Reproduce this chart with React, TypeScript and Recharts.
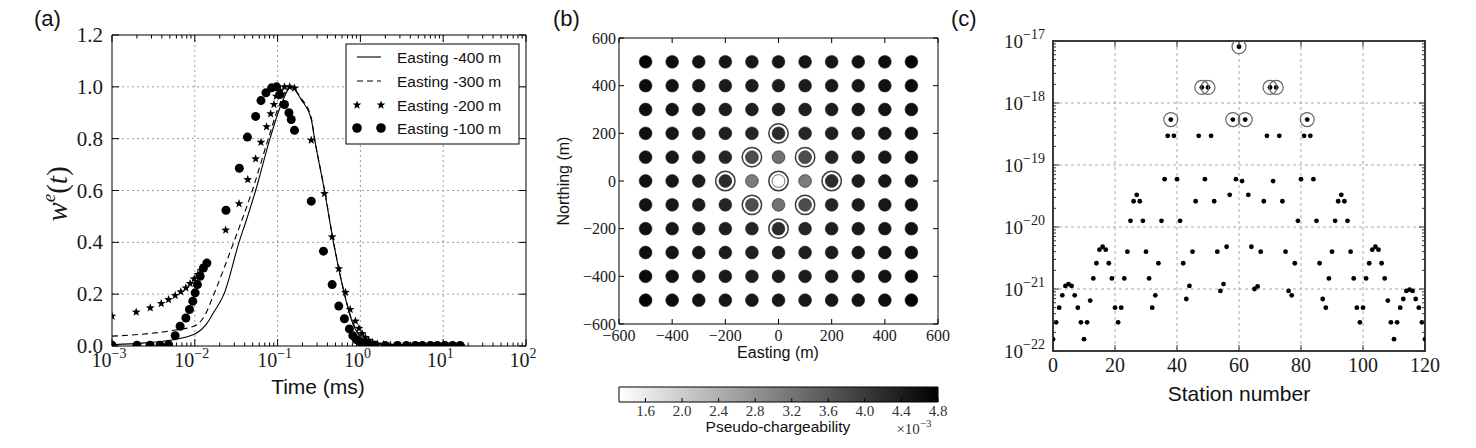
import React from "react";
import {
  ComposedChart,
  ScatterChart,
  Scatter,
  Line,
  XAxis,
  YAxis,
  CartesianGrid,
  ReferenceArea,
} from "recharts";

const SERIF = '"Liberation Serif", "DejaVu Serif", serif';
const SANS = '"Liberation Sans", Arial, sans-serif';
const MINUS = "\u2212";
const INK = "#1a1a1a";

// ---------- (a) normalised windows w^e(t) ----------
const seriesNames = ["Easting -400 m", "Easting -300 m", "Easting -200 m", "Easting -100 m"];
const timeDecades = [0.001, 0.01, 0.1, 1, 10, 100];
const weTicks = [0, 0.2, 0.4, 0.6, 0.8, 1.0, 1.2];

// [time (ms), w^e]
const east400 = [
  [0.001, 0.005], [0.0025, 0.012], [0.005, 0.022], [0.01, 0.046], [0.0141, 0.088],
  [0.0168, 0.128], [0.0225, 0.2], [0.0342, 0.4], [0.0424, 0.49], [0.0543, 0.6],
  [0.0809, 0.8], [0.107, 0.92], [0.146, 1.0], [0.193, 0.95], [0.255, 0.874],
  [0.279, 0.8], [0.368, 0.6], [0.473, 0.4], [0.641, 0.2], [0.773, 0.104],
  [0.973, 0.04], [1.38, 0.012], [2.63, 0.002], [16.6, 0],
];
const east300 = [
  [0.001, 0.038], [0.0022, 0.045], [0.005, 0.058], [0.01, 0.078], [0.0132, 0.118],
  [0.017, 0.2], [0.0295, 0.4], [0.0495, 0.6], [0.0773, 0.8], [0.105, 0.93],
  [0.141, 1.0], [0.193, 0.955], [0.255, 0.88], [0.28, 0.8], [0.37, 0.6],
  [0.475, 0.4], [0.645, 0.2], [0.78, 0.105], [0.98, 0.042], [1.38, 0.013],
  [2.63, 0.002], [16.6, 0],
];
const east200 = [
  [0.001, 0.115], [0.00196, 0.131], [0.0029, 0.147], [0.00393, 0.164], [0.00482, 0.179],
  [0.00579, 0.195], [0.00678, 0.209], [0.0078, 0.224], [0.00879, 0.241], [0.00982, 0.259],
  [0.01086, 0.276], [0.0119, 0.292], [0.01294, 0.308], [0.014, 0.322], [0.0236, 0.447],
  [0.0342, 0.549], [0.0436, 0.642], [0.0543, 0.722], [0.063, 0.786], [0.0736, 0.846],
  [0.0824, 0.896], [0.0904, 0.932], [0.0964, 0.964], [0.108, 0.985], [0.121, 1.0],
  [0.14, 1.0], [0.16, 0.995], [0.255, 0.794], [0.368, 0.588], [0.456, 0.421],
  [0.548, 0.298], [0.659, 0.207], [0.752, 0.141], [0.871, 0.096], [0.96, 0.068],
  [1.05, 0.048], [1.15, 0.033], [1.26, 0.022], [1.4, 0.014], [1.6, 0.008],
  [1.9, 0.005], [2.3, 0.003], [3.0, 0.002], [4.0, 0.001], [5.5, 0.001],
  [7.5, 0], [10, 0], [13, 0], [16.6, 0],
];
const east100 = [
  [0.001, 0.003], [0.002, 0.003], [0.00288, 0.003], [0.0038, 0.003], [0.00482, 0.005],
  [0.00579, 0.04], [0.00665, 0.076], [0.0078, 0.108], [0.00863, 0.141], [0.00946, 0.173],
  [0.0101, 0.205], [0.01076, 0.237], [0.0116, 0.269], [0.0127, 0.301], [0.014, 0.32],
  [0.0238, 0.524], [0.0345, 0.686], [0.0432, 0.806], [0.0543, 0.886], [0.063, 0.947],
  [0.0723, 0.977], [0.0847, 0.996], [0.0973, 1.0], [0.106, 0.97], [0.121, 0.932],
  [0.137, 0.9], [0.146, 0.874], [0.16, 0.832], [0.255, 0.559], [0.358, 0.366],
  [0.456, 0.237], [0.548, 0.154], [0.641, 0.105], [0.736, 0.066], [0.81, 0.04],
  [0.89, 0.025], [1.0, 0.015], [1.12, 0.01], [1.26, 0.005], [1.5, 0.003],
  [2.0, 0.002], [2.8, 0.002], [3.6, 0.002], [4.6, 0.002], [5.6, 0.002],
  [7.0, 0.002], [8.5, 0.002], [10.5, 0.002], [13, 0.002], [16, 0.002],
];

// ---------- (b) pseudo-chargeability map ----------
const eastings = [-500, -400, -300, -200, -100, 0, 100, 200, 300, 400, 500];
const northings = [500, 400, 300, 200, 100, 0, -100, -200, -300, -400, -500];
const mapTicks = [-600, -400, -200, 0, 200, 400, 600];
// x 1e-3, rows from north (500) to south (-500)
const chargeability = [
  [4.75, 4.62, 4.55, 4.5, 4.48, 4.48, 4.48, 4.5, 4.55, 4.62, 4.75],
  [4.65, 4.55, 4.5, 4.45, 4.42, 4.42, 4.42, 4.45, 4.5, 4.55, 4.65],
  [4.6, 4.52, 4.48, 4.42, 4.38, 4.4, 4.38, 4.42, 4.48, 4.52, 4.6],
  [4.58, 4.5, 4.45, 4.38, 4.3, 4.2, 4.3, 4.38, 4.45, 4.5, 4.58],
  [4.55, 4.48, 4.42, 4.3, 3.75, 3.25, 3.75, 4.3, 4.42, 4.48, 4.55],
  [4.55, 4.48, 4.4, 4.2, 3.12, 1.35, 3.12, 4.2, 4.4, 4.48, 4.55],
  [4.55, 4.48, 4.42, 4.3, 3.75, 3.25, 3.75, 4.3, 4.42, 4.48, 4.55],
  [4.58, 4.5, 4.45, 4.38, 4.3, 4.2, 4.3, 4.38, 4.45, 4.5, 4.58],
  [4.6, 4.52, 4.48, 4.42, 4.38, 4.4, 4.38, 4.42, 4.48, 4.52, 4.6],
  [4.65, 4.55, 4.5, 4.45, 4.42, 4.42, 4.42, 4.45, 4.5, 4.55, 4.65],
  [4.75, 4.62, 4.55, 4.5, 4.48, 4.48, 4.48, 4.5, 4.55, 4.62, 4.75],
];
const colorbarTicks = [1.6, 2.0, 2.4, 2.8, 3.2, 3.6, 4.0, 4.4, 4.8];
const CMAP_MIN = 1.31;
const CMAP_MAX = 4.8;

// ---------- (c) per-station values ----------
const stationValues = [
  1.55e-22, 2.9e-22, 5.0e-22, 7.9e-22, 1.12e-21, 1.2e-21, 1.12e-21, 7.9e-22, 5.0e-22, 2.9e-22, 1.55e-22,
  2.9e-22, 6.5e-22, 1.48e-21, 2.6e-21, 4.3e-21, 4.8e-21, 4.3e-21, 2.6e-21, 1.48e-21, 5.0e-22, 2.9e-22,
  5.0e-22, 1.48e-21, 4.0e-21, 1.26e-20, 2.6e-20, 3.3e-20, 2.6e-20, 1.26e-20, 4.0e-21, 1.48e-21, 5.0e-22,
  7.9e-22, 2.6e-21, 1.26e-20, 5.9e-20, 2.95e-19, 5.4e-19, 2.95e-19, 5.9e-20, 1.26e-20, 2.6e-21, 6.9e-22,
  1.12e-21, 4.0e-21, 2.6e-20, 2.95e-19, 1.78e-18, 5.9e-20, 1.78e-18, 2.95e-19, 2.6e-20, 4.0e-21, 9.3e-22,
  1.2e-21, 4.8e-21, 3.3e-20, 5.4e-19, 5.9e-20, 8.1e-18, 5.5e-20, 5.4e-19, 3.3e-20, 4.8e-21, 1.0e-21,
  1.1e-21, 4.0e-21, 2.6e-20, 2.95e-19, 1.78e-18, 5.5e-20, 1.78e-18, 2.95e-19, 2.6e-20, 4.0e-21, 9.3e-22,
  7.9e-22, 2.6e-21, 1.26e-20, 5.9e-20, 2.95e-19, 5.4e-19, 2.95e-19, 5.9e-20, 1.26e-20, 2.6e-21, 6.9e-22,
  5.0e-22, 1.48e-21, 4.0e-21, 1.26e-20, 2.6e-20, 3.3e-20, 2.6e-20, 1.26e-20, 4.0e-21, 1.48e-21, 5.0e-22,
  2.9e-22, 5.0e-22, 1.48e-21, 2.6e-21, 4.3e-21, 4.8e-21, 4.3e-21, 2.6e-21, 1.48e-21, 6.5e-22, 2.9e-22,
  1.55e-22, 2.9e-22, 5.0e-22, 6.9e-22, 9.3e-22, 9.8e-22, 9.3e-22, 6.9e-22, 5.0e-22, 2.9e-22, 1.55e-22,
];
const circledStations = [38, 48, 50, 58, 60, 62, 70, 72, 82];
const stationTicks = [0, 20, 40, 60, 80, 100, 120];
const powerDecades = [1e-22, 1e-21, 1e-20, 1e-19, 1e-18, 1e-17];

// ---------- helpers ----------
const toPts = (arr: number[][]) => arr.map(([t, v]) => ({ t, v }));
const withMinors = (decades: number[]) =>
  decades.flatMap((d, i) =>
    i < decades.length - 1 ? [1, 2, 3, 4, 5, 6, 7, 8, 9].map((k) => d * k) : [d]
  );
const isPow10 = (v: number) => Math.abs(Math.log10(v) - Math.round(Math.log10(v))) < 1e-6;
const signed = (v: number) => (v < 0 ? MINUS + Math.abs(v) : String(v));
const gray = (m: number) => {
  const f = Math.min(1, Math.max(0, (CMAP_MAX - m) / (CMAP_MAX - CMAP_MIN)));
  const g = Math.round(255 * f);
  return `rgb(${g},${g},${g})`;
};

const timeTicks = withMinors(timeDecades);
const powerTicks = withMinors(powerDecades);

const mapPoints = northings.flatMap((n, i) =>
  eastings.map((e, j) => ({
    e,
    n,
    m: chargeability[i][j],
    ring: circledStations.includes((10 - i) * 11 + j),
  }))
);
const stationPoints = stationValues.map((p, s) => ({ s, p }));
const ringPoints = stationPoints.filter((d) => circledStations.includes(d.s));

function starPath(cx: number, cy: number, R: number, r: number) {
  let d = "";
  for (let k = 0; k < 10; k++) {
    const a = -Math.PI / 2 + (k * Math.PI) / 5;
    const rad = k % 2 === 0 ? R : r;
    d += (k === 0 ? "M" : "L") + (cx + rad * Math.cos(a)).toFixed(2) + "," + (cy + rad * Math.sin(a)).toFixed(2);
  }
  return d + "Z";
}

function PowerLabel({ x, y, v, size, sup, anchor = "middle" }: any) {
  const exp = Math.round(Math.log10(v));
  return (
    <text x={x} y={y} textAnchor={anchor} fontFamily={SERIF} fontSize={size} fill={INK}>
      10
      <tspan dy={-size * 0.45} fontSize={sup}>
        {exp < 0 ? MINUS + Math.abs(exp) : String(exp)}
      </tspan>
    </text>
  );
}

// ---------- layout (chart-local pixel boxes) ----------
const PA = { w: 560, h: 448, left: 112, right: 526, top: 35, bottom: 346 };
const PB = { w: 420, h: 448, left: 79, right: 398, top: 38, bottom: 324 };
const PCB = { w: 420, h: 78, left: 79, right: 398, top: 17, bottom: 32 };
const PC = { w: 516, h: 448, left: 93, right: 465, top: 41, bottom: 351 };

// ---------- ticks ----------
function TimeTick({ x, y, payload }: any) {
  const major = isPow10(payload.value);
  const len = major ? 7 : 3.5;
  return (
    <g>
      <line x1={x} x2={x} y1={y} y2={y - len} stroke="#000" />
      <line x1={x} x2={x} y1={PA.top} y2={PA.top + len} stroke="#000" />
      {major && <PowerLabel x={x - 3} y={y + 21} v={payload.value} size={20} sup={14} />}
    </g>
  );
}
function WeTick({ x, y, payload }: any) {
  return (
    <g>
      <line x1={x} x2={x + 7} y1={y} y2={y} stroke="#000" />
      <line x1={PA.right} x2={PA.right - 7} y1={y} y2={y} stroke="#000" />
      <text x={x - 9} y={y + 7} textAnchor="end" fontFamily={SERIF} fontSize={21} fill={INK}>
        {payload.value.toFixed(1)}
      </text>
    </g>
  );
}
function MapXTick({ x, y, payload }: any) {
  return (
    <g>
      <line x1={x} x2={x} y1={y} y2={y - 5} stroke="#000" />
      <line x1={x} x2={x} y1={PB.top} y2={PB.top + 5} stroke="#000" />
      <text x={x} y={y + 17} textAnchor="middle" fontFamily={SERIF} fontSize={16} fill={INK}>
        {signed(payload.value)}
      </text>
    </g>
  );
}
function MapYTick({ x, y, payload }: any) {
  return (
    <g>
      <line x1={x} x2={x + 5} y1={y} y2={y} stroke="#000" />
      <line x1={PB.right} x2={PB.right - 5} y1={y} y2={y} stroke="#000" />
      <text x={x - 3} y={y + 5.5} textAnchor="end" fontFamily={SERIF} fontSize={16} fill={INK}>
        {signed(payload.value)}
      </text>
    </g>
  );
}
function CbarTick({ x, y, payload }: any) {
  return (
    <g>
      <line x1={x} x2={x} y1={y} y2={y - 4} stroke="#000" />
      <text x={x} y={y + 14} textAnchor="middle" fontFamily={SERIF} fontSize={15} fill="#333">
        {payload.value.toFixed(1)}
      </text>
    </g>
  );
}
function StationTick({ x, y, payload }: any) {
  return (
    <g>
      <line x1={x} x2={x} y1={y} y2={y - 6} stroke="#333" />
      <line x1={x} x2={x} y1={PC.top} y2={PC.top + 6} stroke="#333" />
      <text x={x} y={y + 21} textAnchor="middle" fontFamily={SERIF} fontSize={20} fill={INK}>
        {payload.value}
      </text>
    </g>
  );
}
function PowerTick({ x, y, payload }: any) {
  const major = isPow10(payload.value);
  const len = major ? 6 : 3;
  return (
    <g>
      <line x1={x} x2={x + len} y1={y} y2={y} stroke="#333" />
      <line x1={PC.right} x2={PC.right - len} y1={y} y2={y} stroke="#333" />
      {major && <PowerLabel x={x - 8} y={y + 7} v={payload.value} size={19} sup={14} anchor="end" />}
    </g>
  );
}

// ---------- marks ----------
const StarShape = ({ cx, cy }: any) => <path d={starPath(cx, cy, 4.6, 1.9)} fill="#000" />;
const DotShape = ({ cx, cy }: any) => <circle cx={cx} cy={cy} r={4.5} fill="#000" />;
const MapDot = ({ cx, cy, payload }: any) => (
  <g>
    {payload.ring && <circle cx={cx} cy={cy} r={9.7} fill="#fff" stroke="#3a3a3a" strokeWidth={1.5} />}
    <circle cx={cx} cy={cy} r={6.4} fill={gray(payload.m)} stroke="#222" strokeWidth={0.6} />
  </g>
);
const SmallDot = ({ cx, cy }: any) => <circle cx={cx} cy={cy} r={2.4} fill="#000" />;
const Ring = ({ cx, cy }: any) => (
  <circle cx={cx} cy={cy} r={7} fill="none" stroke="#666" strokeWidth={1.2} />
);

function PanelA() {
  return (
    <ComposedChart
      width={PA.w}
      height={PA.h}
      margin={{ top: PA.top, right: PA.w - PA.right, bottom: PA.h - PA.bottom - 30, left: PA.left - 60 }}
    >
      <CartesianGrid
        verticalValues={timeDecades.slice(1, -1)}
        horizontalValues={weTicks.slice(1, -1)}
        stroke="#9a9a9a"
        strokeDasharray="2 3"
      />
      <XAxis
        dataKey="t"
        type="number"
        scale="log"
        domain={[0.001, 100]}
        allowDataOverflow
        ticks={timeTicks}
        interval={0}
        height={30}
        tickSize={0}
        tickMargin={0}
        tickLine={false}
        axisLine={false}
        tick={(p: any) => <TimeTick {...p} />}
      />
      <YAxis
        dataKey="v"
        type="number"
        domain={[0, 1.2]}
        allowDataOverflow
        ticks={weTicks}
        interval={0}
        width={60}
        tickSize={0}
        tickMargin={0}
        tickLine={false}
        axisLine={false}
        tick={(p: any) => <WeTick {...p} />}
      />
      <Line data={toPts(east400)} dataKey="v" type="monotone" stroke="#000" strokeWidth={1.1} dot={false} isAnimationActive={false} />
      <Line data={toPts(east300)} dataKey="v" type="monotone" stroke="#000" strokeWidth={1.1} strokeDasharray="6 4" dot={false} isAnimationActive={false} />
      <Scatter data={toPts(east200)} dataKey="v" shape={StarShape} isAnimationActive={false} />
      <Scatter data={toPts(east100)} dataKey="v" shape={DotShape} isAnimationActive={false} />
      <ReferenceArea x1={0.001} x2={100} y1={0} y2={1.2} fill="none" stroke="#000" strokeWidth={1} ifOverflow="visible" />
    </ComposedChart>
  );
}

function PanelB() {
  return (
    <ScatterChart
      width={PB.w}
      height={PB.h}
      margin={{ top: PB.top, right: PB.w - PB.right, bottom: PB.h - PB.bottom - 30, left: PB.left - 50 }}
    >
      <XAxis
        dataKey="e"
        type="number"
        domain={[-600, 600]}
        allowDataOverflow
        ticks={mapTicks}
        interval={0}
        height={30}
        tickSize={0}
        tickMargin={0}
        tickLine={false}
        axisLine={false}
        tick={(p: any) => <MapXTick {...p} />}
      />
      <YAxis
        dataKey="n"
        type="number"
        domain={[-600, 600]}
        allowDataOverflow
        ticks={mapTicks}
        interval={0}
        width={50}
        tickSize={0}
        tickMargin={0}
        tickLine={false}
        axisLine={false}
        tick={(p: any) => <MapYTick {...p} />}
      />
      <Scatter data={mapPoints} shape={MapDot} isAnimationActive={false} />
      <ReferenceArea x1={-600} x2={600} y1={-600} y2={600} fill="none" stroke="#000" strokeWidth={1} ifOverflow="visible" />
    </ScatterChart>
  );
}

function Colorbar() {
  return (
    <ComposedChart
      width={PCB.w}
      height={PCB.h}
      margin={{ top: PCB.top, right: PCB.w - PCB.right, bottom: PCB.h - PCB.bottom - 30, left: PCB.left }}
    >
      <XAxis
        dataKey="x"
        type="number"
        domain={[CMAP_MIN, CMAP_MAX]}
        allowDataOverflow
        ticks={colorbarTicks}
        interval={0}
        height={30}
        tickSize={0}
        tickMargin={0}
        tickLine={false}
        axisLine={false}
        tick={(p: any) => <CbarTick {...p} />}
      />
      <YAxis dataKey="y" type="number" domain={[0, 1]} hide />
      <Scatter data={colorbarTicks.map((x) => ({ x, y: 0.5 }))} shape={() => <g />} isAnimationActive={false} />
      <ReferenceArea x1={CMAP_MIN} x2={CMAP_MAX} y1={0} y2={1} fill="url(#cbarGrad)" fillOpacity={1} stroke="#000" strokeWidth={1} ifOverflow="visible" />
    </ComposedChart>
  );
}

function PanelC() {
  return (
    <ScatterChart
      width={PC.w}
      height={PC.h}
      margin={{ top: PC.top, right: PC.w - PC.right, bottom: PC.h - PC.bottom - 30, left: PC.left - 53 }}
    >
      <CartesianGrid
        verticalValues={stationTicks.slice(1, -1)}
        horizontalValues={powerDecades.slice(1, -1)}
        stroke="#a8a8a8"
        strokeDasharray="3 3"
      />
      <XAxis
        dataKey="s"
        type="number"
        domain={[0, 120]}
        allowDataOverflow
        ticks={stationTicks}
        interval={0}
        height={30}
        tickSize={0}
        tickMargin={0}
        tickLine={false}
        axisLine={false}
        tick={(p: any) => <StationTick {...p} />}
      />
      <YAxis
        dataKey="p"
        type="number"
        scale="log"
        domain={[1e-22, 1e-17]}
        allowDataOverflow
        ticks={powerTicks}
        interval={0}
        width={53}
        tickSize={0}
        tickMargin={0}
        tickLine={false}
        axisLine={false}
        tick={(p: any) => <PowerTick {...p} />}
      />
      <Scatter data={stationPoints} shape={SmallDot} isAnimationActive={false} />
      <Scatter data={ringPoints} shape={Ring} isAnimationActive={false} />
      <ReferenceArea x1={0} x2={120} y1={1e-22} y2={1e-17} fill="none" stroke="#3a3a3a" strokeWidth={2} ifOverflow="visible" />
    </ScatterChart>
  );
}

function Overlay() {
  const legendRows = [57, 81, 105, 128];
  const sans = { fontFamily: SANS, fill: "#111" };
  return (
    <svg width={1476} height={448} style={{ position: "absolute", left: 0, top: 0, pointerEvents: "none" }}>
      <defs>
        <linearGradient id="cbarGrad" x1="0" x2="1" y1="0" y2="0">
          <stop offset="0%" stopColor="#ffffff" />
          <stop offset="100%" stopColor="#000000" />
        </linearGradient>
      </defs>
      <text x={34} y={26} fontSize={22} {...sans}>(a)</text>
      <text x={553} y={26} fontSize={22} {...sans}>(b)</text>
      <text x={951} y={26} fontSize={22} {...sans}>(c)</text>

      <text x={318} y={394} fontSize={21} textAnchor="middle" {...sans}>Time (ms)</text>
      <text
        x={67}
        y={194}
        transform="rotate(-90 67 194)"
        textAnchor="middle"
        fontFamily={SERIF}
        fontSize={29}
        fill={INK}
      >
        <tspan fontStyle="italic">w</tspan>
        <tspan fontStyle="italic" fontSize={19} dy={-12}>e</tspan>
        <tspan dy={12}>(</tspan>
        <tspan fontStyle="italic">t</tspan>
        <tspan>)</tspan>
      </text>

      <rect x={346} y={44} width={173} height={100} fill="#fff" stroke="#000" />
      {seriesNames.map((name, i) => {
        const cy = legendRows[i];
        return (
          <g key={name}>
            {i === 0 && <line x1={357} x2={381} y1={cy} y2={cy} stroke="#000" strokeWidth={1.1} />}
            {i === 1 && <line x1={357} x2={381} y1={cy} y2={cy} stroke="#000" strokeWidth={1.1} strokeDasharray="6 4" />}
            {i === 2 && [357, 381].map((cx) => <path key={cx} d={starPath(cx, cy, 4.6, 1.9)} fill="#000" />)}
            {i === 3 && [357, 381].map((cx) => <circle key={cx} cx={cx} cy={cy} r={4.8} fill="#000" />)}
            <text x={397} y={cy + 5.5} fontSize={15.5} {...sans}>{name}</text>
          </g>
        );
      })}

      <text x={778} y={358} fontSize={16} textAnchor="middle" {...sans}>Easting (m)</text>
      <text x={569} y={181} fontSize={16} textAnchor="middle" transform="rotate(-90 569 181)" {...sans}>
        Northing (m)
      </text>
      <text x={778} y={432} fontSize={15.5} textAnchor="middle" {...sans}>Pseudo-chargeability</text>
      <text x={914} y={434} fontSize={15} textAnchor="middle" fontFamily={SERIF} fill="#333">
        ×10
        <tspan dy={-7} fontSize={11}>{MINUS}3</tspan>
      </text>

      <text x={1239} y={401} fontSize={21} textAnchor="middle" {...sans}>Station number</text>
    </svg>
  );
}

export default function App() {
  return (
    <div style={{ position: "absolute", left: 0, top: 0, width: 1476, height: 448, background: "#fff", overflow: "hidden" }}>
      <div style={{ position: "absolute", left: 0, top: 0 }}>
        <PanelA />
      </div>
      <div style={{ position: "absolute", left: 540, top: 0 }}>
        <PanelB />
      </div>
      <div style={{ position: "absolute", left: 540, top: 370 }}>
        <Colorbar />
      </div>
      <div style={{ position: "absolute", left: 960, top: 0 }}>
        <PanelC />
      </div>
      <Overlay />
    </div>
  );
}
